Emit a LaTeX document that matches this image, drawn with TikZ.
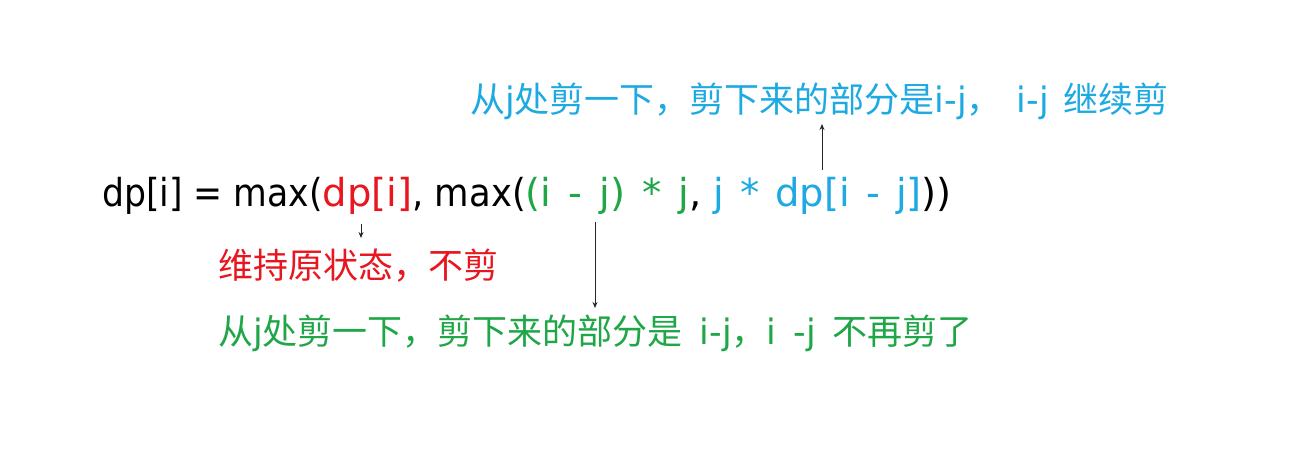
\documentclass[tikz,border=0pt]{standalone}
\usepackage{fontspec}
\setmainfont{Noto Sans CJK SC}
\newfontfamily\latf{DejaVu Sans}
\usetikzlibrary{arrows.meta}
\definecolor{cred}{HTML}{E8161F}
\definecolor{cgreen}{HTML}{1FA647}
\definecolor{cblue}{HTML}{1DA9E1}
\newcommand{\lt}[1]{{\latf #1}}
\newcommand{\gs}{\hspace{17pt}}
\newcommand{\bs}{\hspace{16pt}}
\newcommand{\ls}{\hspace{17pt}}
\newcommand{\ms}{\hspace{15pt}}
\tikzset{
  seg/.style={anchor=base west, inner sep=0pt, outer sep=0pt, font=\latf\fontsize{38.5}{42}\selectfont},
  lbl/.style={anchor=base west, inner sep=0pt, outer sep=0pt, font=\fontsize{35}{38}\selectfont},
  arr/.style={draw=black!85, line width=0.9pt, -{Stealth[length=6pt,width=5pt]}}
}
\begin{document}
\begin{tikzpicture}[x=1pt,y=1pt]
\useasboundingbox (0,0) rectangle (1292,462);
\fill[white] (0,0) rectangle (1292,462);
% formula
\node[seg] (f1) at (102,255) {\scalebox{0.90}[1]{dp[i] = max(}};
\node[seg, text=cred] (f2) at (f1.base east) {dp[i]};
\node[seg] (f3) at (f2.base east) {\scalebox{0.92}[1]{,\ max(}};
\node[seg, text=cgreen] (f4) at (f3.base east) {(i\gs-\gs j)\gs*\gs j};
\node[seg] (f5) at (f4.base east) {,};
\node[seg, text=cblue] (f6) at (f5.base east) {\ j\bs*\bs dp[i\bs-\bs j]};
\node[seg] (f7) at (f6.base east) {))};
% labels
\node[lbl, text=cblue] (lb) at (470,349) {从\lt{j}处剪一下，剪下来的部分是\lt{i-j}，\lt{\ms i-j\ms}继续剪};
\node[lbl, text=cred] (lr) at (218,183) {维持原状态，不剪};
\node[lbl, text=cgreen] (lg) at (218,117) {从\lt{j}处剪一下，剪下来的部分是\lt{\ls i-j}，\lt{i\ls-j\ls}不再剪了};
% arrows
\coordinate (ra1) at (361,238);
\coordinate (ra2) at (361,224);
\coordinate (ga1) at (595,240);
\coordinate (ga2) at (595,154);
\coordinate (ba1) at (822,292);
\coordinate (ba2) at (822,338);
\draw[arr] (ra1) -- (ra2);
\draw[arr] (ga1) -- (ga2);
\draw[arr] (ba1) -- (ba2);
\end{tikzpicture}
\end{document}
